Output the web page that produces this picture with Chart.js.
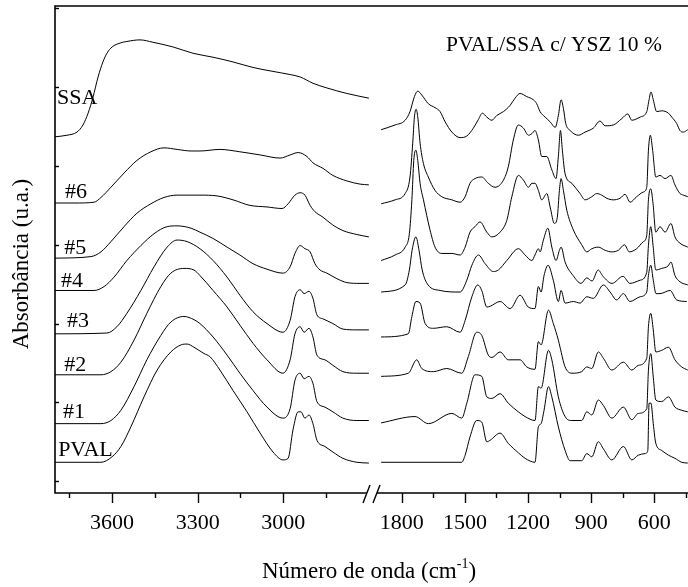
<!DOCTYPE html>
<html>
<head>
<meta charset="utf-8">
<title>FTIR PVAL/SSA c/ YSZ 10 %</title>
<script src="https://cdn.jsdelivr.net/npm/chart.js"></script>
<style>
    body { margin: 0; background: #fff; }
    #wrap { width: 688px; height: 587px; }
</style>
</head>
<body>
<div id="wrap"><canvas id="ftir" width="688" height="587"></canvas></div>
<script>
    "use strict";

    // Amostras (de cima para baixo)
    var amostras = ["SSA", "#6", "#5", "#4", "#3", "#2", "#1", "PVAL"];

    // Espectros: [número de onda (cm-1), absorbância (u.a., já deslocada)]
    // Região alta (3800 - 2700)
    var ssaL = [[3800,4.37],[3758,4.39],[3723,4.43],[3702,4.52],[3684,4.67],[3667,4.87],[3649,5.13],[3632,5.32],[3618,5.43],[3600,5.51],[3572,5.56],[3548,5.58],[3502,5.60],[3457,5.57],[3386,5.51],[3316,5.43],[3246,5.38],[3176,5.32],[3106,5.25],[3036,5.20],[2976,5.16],[2941,5.13],[2896,5.05],[2847,4.99],[2777,4.92],[2700,4.86]];
    var s6L = [[3800,3.53],[3730,3.53],[3663,3.54],[3639,3.60],[3604,3.73],[3558,3.91],[3513,4.07],[3464,4.18],[3418,4.23],[3372,4.21],[3323,4.19],[3292,4.19],[3222,4.21],[3152,4.18],[3081,4.14],[3011,4.10],[2976,4.14],[2948,4.17],[2917,4.12],[2896,4.04],[2861,3.97],[2826,3.88],[2777,3.81],[2731,3.77],[2700,3.76]];
    var s5L = [[3800,2.83],[3674,2.85],[3639,2.91],[3604,3.04],[3558,3.23],[3513,3.40],[3464,3.52],[3418,3.60],[3372,3.63],[3292,3.63],[3232,3.62],[3176,3.57],[3117,3.50],[3057,3.48],[3004,3.46],[2983,3.52],[2959,3.63],[2941,3.66],[2924,3.63],[2906,3.50],[2889,3.42],[2861,3.35],[2826,3.25],[2791,3.18],[2742,3.13],[2700,3.10]];
    var s4L = [[3800,2.42],[3663,2.42],[3628,2.47],[3593,2.59],[3548,2.80],[3499,2.99],[3453,3.14],[3407,3.23],[3372,3.24],[3323,3.21],[3292,3.16],[3246,3.08],[3197,2.97],[3152,2.87],[3106,2.76],[3057,2.69],[3001,2.64],[2976,2.72],[2959,2.89],[2941,2.99],[2924,2.95],[2906,2.91],[2889,2.76],[2871,2.68],[2847,2.64],[2812,2.57],[2777,2.52],[2731,2.51],[2700,2.51]];
    var s3L = [[3800,1.87],[3618,1.88],[3583,1.96],[3548,2.13],[3499,2.42],[3453,2.72],[3407,2.97],[3372,3.06],[3337,3.04],[3292,2.95],[3246,2.80],[3197,2.59],[3152,2.36],[3106,2.15],[3057,2.00],[3001,1.89],[2976,2.04],[2959,2.34],[2941,2.43],[2927,2.38],[2910,2.41],[2896,2.32],[2882,2.11],[2861,2.06],[2826,2.00],[2791,1.93],[2742,1.92],[2700,1.92]];
    var s2L = [[3800,1.35],[3639,1.35],[3604,1.39],[3569,1.51],[3523,1.79],[3478,2.13],[3429,2.47],[3394,2.64],[3348,2.70],[3313,2.68],[3292,2.61],[3246,2.42],[3197,2.21],[3152,1.98],[3106,1.75],[3057,1.54],[3001,1.37],[2976,1.54],[2959,1.87],[2941,1.96],[2927,1.89],[2910,1.94],[2896,1.83],[2882,1.60],[2854,1.54],[2826,1.47],[2791,1.39],[2742,1.37],[2700,1.37]];
    var s1L = [[3800,0.73],[3639,0.73],[3604,0.77],[3569,0.90],[3523,1.20],[3478,1.54],[3429,1.85],[3394,2.02],[3348,2.09],[3313,2.05],[3292,2.00],[3246,1.83],[3197,1.60],[3152,1.37],[3106,1.15],[3057,0.94],[3001,0.80],[2976,0.92],[2959,1.28],[2941,1.37],[2927,1.30],[2910,1.33],[2896,1.24],[2882,1.01],[2854,0.94],[2826,0.88],[2791,0.80],[2742,0.77],[2700,0.77]];
    var pvL = [[3800,0.24],[3639,0.24],[3600,0.31],[3569,0.44],[3534,0.69],[3488,1.07],[3442,1.41],[3394,1.64],[3358,1.73],[3337,1.74],[3313,1.70],[3278,1.62],[3257,1.58],[3222,1.41],[3176,1.15],[3127,0.88],[3081,0.61],[3036,0.37],[3001,0.27],[2983,0.29],[2966,0.65],[2948,0.88],[2938,0.88],[2924,0.80],[2910,0.84],[2896,0.73],[2882,0.52],[2854,0.44],[2826,0.37],[2791,0.29],[2742,0.24],[2700,0.23]];

    // Região baixa (1900 - 440)
    var ssaR = [[1898,4.46],[1832,4.52],[1784,4.58],[1761,4.69],[1740,4.88],[1724,4.95],[1705,4.90],[1674,4.79],[1642,4.74],[1618,4.69],[1594,4.56],[1562,4.43],[1523,4.36],[1491,4.38],[1460,4.48],[1436,4.59],[1417,4.67],[1396,4.62],[1372,4.58],[1349,4.64],[1317,4.69],[1285,4.77],[1262,4.86],[1238,4.92],[1206,4.88],[1175,4.84],[1159,4.79],[1143,4.69],[1119,4.62],[1095,4.56],[1071,4.49],[1056,4.64],[1043,4.84],[1032,4.73],[1021,4.54],[1000,4.45],[961,4.39],[929,4.43],[890,4.48],[858,4.57],[834,4.51],[795,4.52],[755,4.60],[726,4.66],[707,4.58],[668,4.62],[636,4.69],[625,4.84],[616,4.94],[605,4.84],[589,4.69],[565,4.70],[533,4.67],[517,4.62],[494,4.54],[478,4.45],[462,4.43],[441,4.46]];
    var s6R = [[1898,3.52],[1832,3.57],[1784,3.65],[1761,3.86],[1748,4.29],[1740,4.62],[1732,4.72],[1724,4.62],[1713,4.29],[1697,4.03],[1674,3.86],[1642,3.69],[1610,3.61],[1562,3.57],[1523,3.54],[1499,3.61],[1476,3.78],[1452,3.84],[1420,3.86],[1389,3.78],[1357,3.73],[1317,3.82],[1294,3.99],[1270,4.33],[1246,4.52],[1222,4.48],[1198,4.39],[1182,4.41],[1167,4.45],[1151,4.33],[1135,4.12],[1111,4.12],[1087,3.95],[1067,3.84],[1056,4.12],[1046,4.45],[1037,4.20],[1024,3.90],[992,3.78],[953,3.65],[929,3.57],[897,3.61],[874,3.65],[850,3.63],[826,3.59],[795,3.57],[763,3.59],[739,3.64],[715,3.54],[684,3.61],[652,3.67],[636,3.73],[628,4.20],[619,4.39],[608,4.20],[593,3.86],[573,3.88],[549,3.84],[521,3.88],[502,3.76],[478,3.65],[462,3.63],[441,3.61]];
    var s5R = [[1898,2.80],[1832,2.87],[1784,2.97],[1764,3.14],[1752,3.57],[1743,4.07],[1733,4.20],[1724,4.07],[1713,3.78],[1697,3.57],[1666,3.19],[1642,2.97],[1610,2.89],[1562,2.89],[1523,2.87],[1499,2.97],[1476,3.16],[1452,3.23],[1428,3.29],[1396,3.16],[1372,3.10],[1333,3.16],[1301,3.31],[1277,3.61],[1246,3.88],[1222,3.82],[1198,3.73],[1182,3.78],[1167,3.78],[1151,3.69],[1135,3.57],[1111,3.65],[1095,3.48],[1075,3.27],[1061,3.35],[1051,3.69],[1043,3.84],[1032,3.69],[1016,3.44],[985,3.19],[945,3.00],[921,2.91],[897,2.95],[866,2.97],[834,2.93],[802,2.91],[771,2.93],[742,3.00],[719,2.91],[684,2.95],[652,3.04],[636,3.12],[628,3.57],[617,3.71],[606,3.52],[593,3.16],[573,3.23],[549,3.16],[521,3.27],[502,3.10],[478,3.02],[441,2.97]];
    var s4R = [[1898,2.40],[1784,2.49],[1764,2.68],[1751,2.93],[1733,3.10],[1718,2.93],[1703,2.68],[1675,2.49],[1618,2.42],[1523,2.40],[1491,2.55],[1467,2.74],[1436,2.87],[1404,2.76],[1365,2.66],[1341,2.68],[1301,2.80],[1246,2.95],[1214,2.87],[1182,2.80],[1167,2.87],[1151,2.95],[1143,2.91],[1127,3.06],[1106,3.21],[1087,2.97],[1067,2.80],[1051,2.93],[1043,2.97],[1024,2.78],[986,2.61],[948,2.51],[921,2.58],[896,2.54],[867,2.68],[844,2.60],[801,2.51],[749,2.60],[716,2.51],[668,2.55],[636,2.65],[628,2.99],[617,3.23],[606,2.99],[593,2.68],[565,2.70],[535,2.73],[521,2.78],[502,2.61],[478,2.53],[441,2.49]];
    var s3R = [[1898,1.83],[1769,1.87],[1752,2.09],[1733,2.28],[1713,2.26],[1689,2.00],[1650,1.94],[1586,1.96],[1523,1.89],[1499,2.04],[1467,2.34],[1439,2.49],[1420,2.42],[1396,2.21],[1380,2.22],[1333,2.28],[1285,2.19],[1238,2.36],[1199,2.21],[1167,2.19],[1151,2.47],[1138,2.40],[1124,2.61],[1105,2.74],[1080,2.55],[1056,2.28],[1043,2.42],[1024,2.26],[985,2.28],[953,2.26],[921,2.34],[890,2.32],[842,2.49],[810,2.40],[779,2.30],[747,2.38],[716,2.28],[668,2.34],[636,2.40],[628,2.61],[617,2.74],[605,2.55],[592,2.38],[573,2.38],[525,2.42],[494,2.30],[446,2.28]];
    var s2R = [[1898,1.33],[1769,1.37],[1729,1.54],[1705,1.43],[1650,1.39],[1586,1.43],[1515,1.37],[1484,1.58],[1444,1.89],[1420,1.85],[1389,1.60],[1372,1.57],[1333,1.64],[1294,1.54],[1238,1.54],[1206,1.45],[1167,1.42],[1151,1.77],[1138,1.73],[1103,2.17],[1080,2.00],[1056,1.79],[1048,1.70],[1024,1.45],[992,1.37],[945,1.39],[921,1.45],[897,1.43],[866,1.64],[842,1.56],[802,1.41],[747,1.51],[707,1.41],[676,1.47],[636,1.56],[628,1.96],[617,2.13],[605,1.92],[593,1.64],[565,1.66],[533,1.70],[502,1.54],[470,1.45],[441,1.41]];
    var s1R = [[1898,0.74],[1737,0.82],[1674,0.73],[1562,0.86],[1515,0.80],[1491,0.99],[1452,1.35],[1420,1.33],[1396,1.07],[1372,1.05],[1333,1.11],[1294,0.99],[1246,0.88],[1214,0.82],[1167,0.77],[1151,1.20],[1138,1.18],[1103,1.66],[1087,1.54],[1056,1.07],[1024,0.82],[992,0.77],[945,0.77],[921,0.88],[897,0.84],[866,1.03],[842,0.96],[802,0.80],[747,0.94],[707,0.78],[676,0.86],[636,0.92],[628,1.41],[617,1.62],[605,1.32],[593,1.03],[565,1.01],[533,1.07],[502,0.94],[470,0.90],[441,0.88]];
    var pvR = [[1898,0.24],[1515,0.24],[1499,0.33],[1476,0.56],[1444,0.77],[1420,0.75],[1396,0.50],[1380,0.52],[1333,0.61],[1294,0.48],[1246,0.36],[1214,0.29],[1167,0.24],[1151,0.69],[1138,0.73],[1124,0.90],[1103,1.20],[1087,1.07],[1056,0.69],[1024,0.39],[1000,0.26],[945,0.26],[921,0.35],[897,0.31],[866,0.50],[842,0.41],[802,0.27],[747,0.44],[707,0.27],[676,0.33],[644,0.35],[631,0.39],[625,0.99],[616,0.99],[605,0.73],[593,0.48],[565,0.39],[533,0.33],[502,0.29],[470,0.24],[441,0.23]];

    // Eixo x quebrado
    var ticksAltosMaior = [3600, 3300, 3000];
    var ticksAltosMenor = [3750, 3450, 3150, 2850];
    var ticksBaixosMaior = [1800, 1500, 1200, 900, 600];
    var ticksBaixosMenor = [1650, 1350, 1050, 750, 450];
    var ticksY = [0, 1, 2, 3, 4, 5, 6];

    var espectrosL = [ssaL, s6L, s5L, s4L, s3L, s2L, s1L, pvL];
    var espectrosR = [ssaR, s6R, s5R, s4R, s3R, s2R, s1R, pvR];

    var fonte = "'Liberation Serif', 'Times New Roman', serif";

    function serie(pontos, eixo, nome) {
        return {
            label: nome,
            data: pontos.map(function (p) { return {x: p[0], y: p[1]}; }),
            xAxisID: eixo,
            borderColor: "#000",
            borderWidth: 1,
            pointRadius: 0,
            fill: false,
            cubicInterpolationMode: "monotone"
        };
    }

    var datasets = [];
    amostras.forEach(function (nome, i) {
        datasets.push(serie(espectrosL[i], "xL", nome));
        datasets.push(serie(espectrosR[i], "xR", nome));
    });

    // posição dos rótulos (em coordenadas do eixo da esquerda)
    var rotulos = [
        ["SSA", 3793, 4.86], ["#6", 3765, 3.67], ["#5", 3768, 2.96], ["#4", 3779, 2.54],
        ["#3", 3758, 2.03], ["#2", 3768, 1.47], ["#1", 3772, 0.88], ["PVAL", 3789, 0.39]
    ];

    var desenhos = {
        id: "desenhos",
        afterDraw: function (chart) {
            var ctx = chart.ctx, a = chart.chartArea;
            var xL = chart.scales.xL, xR = chart.scales.xR, y = chart.scales.y;
            var jx = xL.right;
            ctx.save();
            ctx.strokeStyle = "#000";
            ctx.fillStyle = "#000";

            // moldura: esquerda, topo, base (com quebra)
            ctx.lineWidth = 1.6;
            ctx.beginPath();
            ctx.moveTo(a.left, a.bottom + 0.8);
            ctx.lineTo(a.left, a.top);
            ctx.lineTo(a.right, a.top);
            ctx.moveTo(a.left, a.bottom);
            ctx.lineTo(jx - 7, a.bottom);
            ctx.moveTo(jx + 3, a.bottom);
            ctx.lineTo(a.right, a.bottom);
            ctx.stroke();

            // sinal de quebra //
            ctx.lineWidth = 1.4;
            ctx.beginPath();
            ctx.moveTo(jx - 11, a.bottom + 10); ctx.lineTo(jx - 4, a.bottom - 8);
            ctx.moveTo(jx - 1, a.bottom + 10); ctx.lineTo(jx + 6, a.bottom - 8);
            ctx.stroke();

            // marcas do eixo x
            ctx.lineWidth = 1.4;
            function marca(escala, valores, tam) {
                valores.forEach(function (v) {
                    var px = Math.round(escala.getPixelForValue(v)) + 0.5;
                    ctx.beginPath();
                    ctx.moveTo(px, a.bottom);
                    ctx.lineTo(px, a.bottom + tam);
                    ctx.stroke();
                });
            }
            marca(xL, ticksAltosMaior, 10);
            marca(xL, ticksAltosMenor, 5);
            marca(xR, ticksBaixosMaior, 10);
            marca(xR, ticksBaixosMenor, 5);

            // marcas do eixo y (para dentro)
            ticksY.forEach(function (v) {
                var py = Math.round(y.getPixelForValue(v)) + 0.5;
                ctx.beginPath();
                ctx.moveTo(a.left, py);
                ctx.lineTo(a.left + 4, py);
                ctx.stroke();
            });

            // rótulos das amostras
            ctx.font = "22px " + fonte;
            ctx.textBaseline = "middle";
            ctx.textAlign = "left";
            rotulos.forEach(function (r) {
                ctx.fillText(r[0], xL.getPixelForValue(r[1]), y.getPixelForValue(r[2]));
            });

            // título interno
            ctx.font = "21.5px " + fonte;
            ctx.fillText("PVAL/SSA c/ YSZ 10 %", 446, 45);

            // título do eixo x com sobrescrito
            ctx.font = "23px " + fonte;
            ctx.textBaseline = "alphabetic";
            var t1 = "Número de onda (cm", t2 = "-1", t3 = ")";
            var w1 = ctx.measureText(t1).width;
            ctx.font = "14px " + fonte;
            var w2 = ctx.measureText(t2).width;
            ctx.font = "23px " + fonte;
            var w3 = ctx.measureText(t3).width;
            var x0 = 369 - (w1 + w2 + w3) / 2;
            ctx.fillText(t1, x0, 578);
            ctx.font = "14px " + fonte;
            ctx.fillText(t2, x0 + w1, 568);
            ctx.font = "23px " + fonte;
            ctx.fillText(t3, x0 + w1 + w2, 578);

            // título do eixo y
            ctx.translate(22, 264);
            ctx.rotate(-Math.PI / 2);
            ctx.textAlign = "center";
            ctx.textBaseline = "middle";
            ctx.fillText("Absorbância (u.a.)", 0, 0);
            ctx.restore();
        }
    };

    function eixoX(min, max, peso, maiores) {
        return {
            type: "linear",
            position: "bottom",
            stack: "numeroOnda",
            stackWeight: peso,
            reverse: true,
            min: min,
            max: max,
            grid: {display: false, drawTicks: false, tickLength: 0},
            border: {display: false},
            afterBuildTicks: function (escala) {
                escala.ticks = maiores.map(function (v) { return {value: v}; });
            },
            afterFit: function (escala) {
                escala.height = 94;
                escala.paddingLeft = 0;
                escala.paddingRight = 0;
            },
            ticks: {
                autoSkip: false,
                maxRotation: 0,
                padding: 17,
                color: "#000",
                font: {family: fonte, size: 22},
                callback: function (v) { return String(v); }
            }
        };
    }

    new Chart(document.getElementById("ftir").getContext("2d"), {
        type: "line",
        data: {datasets: datasets},
        options: {
            responsive: false,
            animation: false,
            layout: {padding: {left: 55, top: 6, right: 0, bottom: 0}},
            plugins: {legend: {display: false}, tooltip: {enabled: false}},
            scales: {
                xL: eixoX(2682, 3800, 319, ticksAltosMaior),
                xR: eixoX(440, 1932, 314, ticksBaixosMaior),
                y: {type: "linear", display: false, min: -0.15, max: 6.03}
            }
        },
        plugins: [desenhos]
    });
</script>
</body>
</html>
